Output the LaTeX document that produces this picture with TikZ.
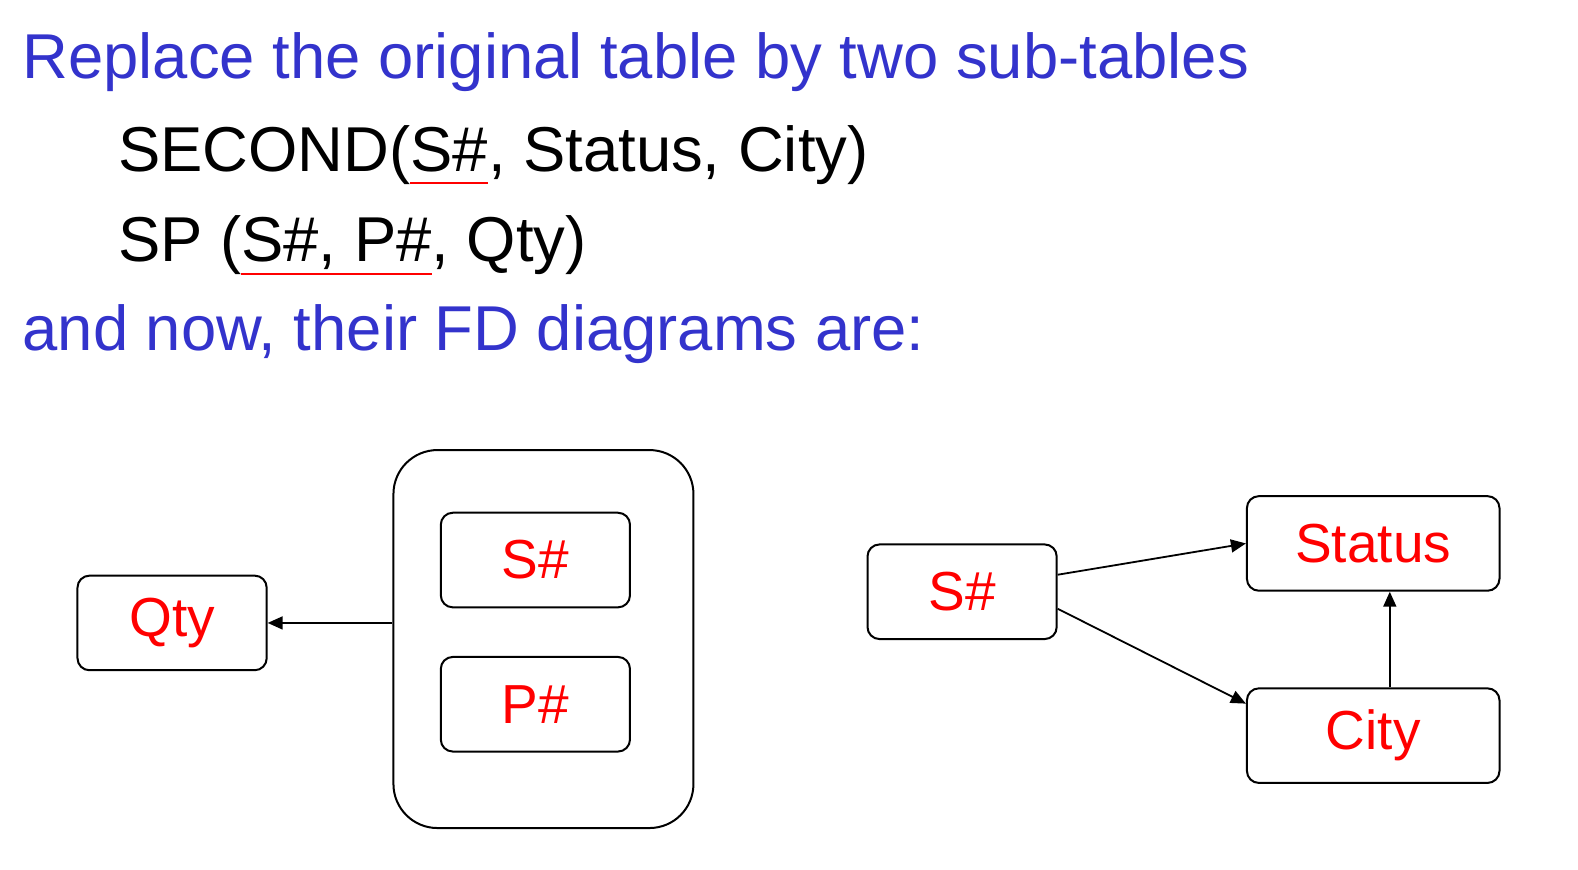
\documentclass[tikz,border=0pt]{standalone}
\usepackage{fontspec}
\setmainfont{Liberation Sans}
\usepackage{xcolor}
\usepackage{tikz}
\usetikzlibrary{arrows.meta, positioning, calc}

\definecolor{headblue}{RGB}{51,51,204}
\definecolor{keyred}{RGB}{255,0,0}

% underline a key attribute in red
\newcommand\keyul[1]{\setbox0\hbox{#1}\rlap{\color{keyred}\rule[-6.5pt]{\wd0}{1pt}}\box0}

\begin{document}
\begin{tikzpicture}[
                x=0.5032pt, y=-0.5032pt,
                headline/.style={inner sep=0pt, anchor=base west, text=headblue, font=\fontsize{31.7}{38}\selectfont},
                schema/.style={inner sep=0pt, anchor=base west, text=black, font=\fontsize{31.7}{38}\selectfont},
                attr/.style={draw, line width=1pt, rounded corners=6pt, minimum width=94.6pt, minimum height=47.3pt, text=keyred, font=\fontsize{27.5}{33}\selectfont},
                wide/.style={minimum width=126.3pt},
                group/.style={draw, line width=1pt, rounded corners=22pt, minimum width=150pt, minimum height=189pt},
                fd/.style={line width=0.9pt, -{Triangle[length=7.5pt,width=6.5pt]}}
            ]
                \useasboundingbox (0,0) rectangle (1568,864);

                % Text
                \node[headline] (title) at (22,78) {Replace the original table by two sub-tables};
                \node[schema] (second) at (117,170) {SECOND(\keyul{S\#}, Status, City)};
                \node[schema] (sptab) at (117,260) {SP (\keyul{S\#, P\#}, Qty)};
                \node[headline] (fdline) at (22,348) {and now, their FD diagrams are:};

                % SP diagram
                \node[group] (grp) at (540,635) {};
                \node[attr] (spS) at (532,556.5) {S\#};
                \node[attr, below=23.8pt of spS] (spP) {P\#};
                \node[attr] (qty) at (171,619) {Qty};

                % SECOND diagram
                \node[attr] (secS) at (956,588) {S\#};
                \node[attr, wide] (status) at (1364.5,540) {Status};
                \node[attr, wide, below=47.8pt of status] (city) {City};

                % Edges
                \draw[fd] (grp.west |- qty.east) -- (qty.east);
                \draw[fd] ([yshift=8.5pt]secS.east) -- (status.west);
                \draw[fd] ([yshift=-8.5pt]secS.east) -- ([yshift=16pt]city.west);
                \draw[fd] ([xshift=8.3pt]city.north) -- ([xshift=8.3pt]status.south);
            \end{tikzpicture}
\end{document}
